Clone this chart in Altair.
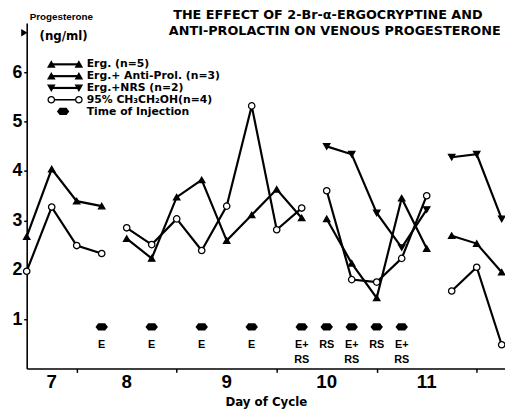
import altair as alt
import pandas as pd

# ---------------- data ----------------
SERIES = ["Erg. (n=5)", "Erg.+ Anti-Prol. (n=3)", "Erg.+NRS (n=2)", "95% CH\u2083CH\u2082OH(n=4)"]
SHAPES = ["triangle-up", "triangle-up", "triangle-down", "circle"]
FILLS = ["black", "black", "black", "white"]
WIDTHS = [2.2, 2.2, 2.2, 1.6]

# sampling times (fractional day of cycle)
T_A = [7.5, 7.75, 8.0, 8.25]
T_B = [8.5, 8.75, 9.0, 9.25, 9.5, 9.75, 10.0, 10.25]
T_C = [10.5, 10.75, 11.0, 11.25, 11.5]
T_D = [11.75, 12.0, 12.25]

ERG_A = [2.67, 4.04, 3.39, 3.29]
ERG_B = [2.63, 2.23, 3.47, 3.82, 2.59, 3.11, 3.63, 3.05]
ANTI_C = [3.03, 2.13, 1.43, 3.45, 2.43]
ANTI_D = [2.69, 2.53, 1.95]
NRS_C = [4.50, 4.34, 3.15, 2.45, 3.22]
NRS_D = [4.28, 4.34, 3.03]
ETH_A = [1.97, 3.27, 2.49, 2.33]
ETH_B = [2.85, 2.51, 3.03, 2.39, 3.29, 5.32, 2.81, 3.25]
ETH_C = [3.60, 1.80, 1.75, 2.23, 3.50]
ETH_D = [1.57, 2.05, 0.48]

INJ_T = [8.25, 8.75, 9.25, 9.75, 10.25, 10.5, 10.75, 11.0, 11.25]
INJ_LABEL = ["E", "E", "E", "E", "E+\nRS", "RS", "E+\nRS", "RS", "E+\nRS"]
INJ_LEVEL = 0.84

DAY_POS = [7.75, 8.5, 9.5, 10.5, 11.5]
DAY_LABEL = ["7", "8", "9", "10", "11"]
DAY_TICKS = [8, 9, 10, 11, 12]
Y_TICKS = [1, 2, 3, 4, 5, 6]

TITLE_1 = "THE EFFECT OF 2-Br-\u03b1-ERGOCRYPTINE AND"
TITLE_2 = "ANTI-PROLACTIN ON VENOUS PROGESTERONE"

segments = [
    (0, "a", T_A, ERG_A), (0, "b", T_B, ERG_B),
    (1, "c", T_C, ANTI_C), (1, "d", T_D, ANTI_D),
    (2, "c", T_C, NRS_C), (2, "d", T_D, NRS_D),
    (3, "a", T_A, ETH_A), (3, "b", T_B, ETH_B), (3, "c", T_C, ETH_C), (3, "d", T_D, ETH_D),
]
rows = []
for si, seg, ts, vs in segments:
    for t, v in zip(ts, vs):
        rows.append({"series": SERIES[si], "seg": f"{si}{seg}", "t": t, "v": v})
df = pd.DataFrame(rows)

# ---------------- layout ----------------
W, H = 486, 351
FONT = "Liberation Sans"
WIDE = "DejaVu Sans"
INJ_PATH = "M-1,0 L-0.55,-0.6 L0.55,-0.6 L1,0 L0.55,0.55 L-0.55,0.55 Z"

xs = alt.Scale(domain=[7.5, 12.283], nice=False, zero=False)
ys = alt.Scale(domain=[0, 7], nice=False, zero=True)
shape_s = alt.Scale(domain=SERIES, range=SHAPES)
fill_s = alt.Scale(domain=SERIES, range=FILLS)
width_s = alt.Scale(domain=SERIES, range=WIDTHS)

x_axis = alt.Axis(values=DAY_TICKS, labels=False, tickSize=4, tickWidth=1.5, tickColor="black",
                  domainColor="black", domainWidth=1.6, grid=False, title="Day of Cycle",
                  titleFont=WIDE, titleFontSize=12, titleFontWeight="bold", titleColor="black",
                  titleBaseline="middle", titleY=34)
y_axis = alt.Axis(values=Y_TICKS, tickSize=3, tickWidth=1.5, tickColor="black",
                  domainColor="black", domainWidth=1.6, grid=False, title=None,
                  labelFont=FONT, labelFontSize=18, labelFontWeight="bold", labelColor="black",
                  labelPadding=2)

X_ENC = alt.X("t:Q", scale=xs, axis=x_axis, title="Day of Cycle")
Y_ENC = alt.Y("v:Q", scale=ys, axis=y_axis, title=None)

lines = alt.Chart(df).mark_line(color="black").encode(
    x=X_ENC, y=Y_ENC,
    detail="seg:N",
    strokeWidth=alt.StrokeWidth("series:N", scale=width_s, legend=None),
)
points = alt.Chart(df).mark_point(filled=True, stroke="black", strokeWidth=1.3, opacity=1, size=42).encode(
    x=X_ENC, y=Y_ENC,
    shape=alt.Shape("series:N", scale=shape_s, legend=None),
    fill=alt.Fill("series:N", scale=fill_s, legend=None),
)

inj_df = pd.DataFrame({"t": INJ_T, "lab": INJ_LABEL, "v": [INJ_LEVEL] * len(INJ_T)})
inj_marks = alt.Chart(inj_df).mark_point(shape=INJ_PATH, filled=True, color="black", opacity=1, size=160).encode(
    x=X_ENC, y=Y_ENC,
)
inj_text = alt.Chart(inj_df).mark_text(font=FONT, fontSize=11, fontWeight="bold", baseline="top",
                                       lineBreak="\n", lineHeight=15, color="black").encode(
    x=X_ENC,
    y=alt.value(321),
    text="lab:N",
)

day_df = pd.DataFrame({"t": DAY_POS, "lab": DAY_LABEL})
day_text = alt.Chart(day_df).mark_text(font=FONT, fontSize=19, fontWeight="bold", baseline="middle",
                                       color="black").encode(
    x=X_ENC,
    y=alt.value(H + 14),
    text="lab:N",
)

one = pd.DataFrame({"k": [0]})


def label(txt, x, y, size, align="left", font=WIDE):
    return alt.Chart(one).mark_text(text=txt, font=font, fontSize=size, fontWeight="bold",
                                    align=align, baseline="middle", color="black").encode(
        x=alt.value(x), y=alt.value(y))


layers = [lines, points, inj_marks, inj_text, day_text]

# titles
layers.append(label(TITLE_1, 306, -8, 13, "center"))
layers.append(label(TITLE_2, 313, 8, 13, "center"))
layers.append(label("Progesterone", 3, -6, 10, font=FONT))
layers.append(label("(ng/ml)", 13, 13, 12))

# axis arrow head
layers.append(alt.Chart(one).mark_point(shape="triangle-up", filled=True, color="black", opacity=1,
                                        size=55, angle=330).encode(x=alt.value(-4), y=alt.value(9)))

# legend
LEG_Y = [42, 54, 66, 78, 90]
for i, name in enumerate(SERIES):
    yy = LEG_Y[i]
    ldf = pd.DataFrame({"series": [name]})
    layers.append(alt.Chart(ldf).mark_rule(color="black", strokeWidth=WIDTHS[i]).encode(
        x=alt.value(25), x2=alt.value(53), y=alt.value(yy)))
    for xx in (25, 53):
        layers.append(alt.Chart(ldf).mark_point(filled=True, stroke="black", strokeWidth=1.3,
                                                opacity=1, size=42).encode(
            x=alt.value(xx), y=alt.value(yy),
            shape=alt.Shape("series:N", scale=shape_s, legend=None),
            fill=alt.Fill("series:N", scale=fill_s, legend=None)))
    layers.append(label(name, 61, yy, 11))
layers.append(alt.Chart(one).mark_point(shape=INJ_PATH, filled=True, color="black", opacity=1,
                                        size=160).encode(x=alt.value(37), y=alt.value(LEG_Y[4])))
layers.append(label("Time of Injection", 61, LEG_Y[4], 11))

chart = alt.layer(*layers).properties(
    width=W, height=H,
    autosize=alt.AutoSizeParams(type="none"),
    padding={"left": 19, "top": 12, "right": 0, "bottom": 40},
    background="white",
).configure_view(stroke=None)

chart.save("out.html", embed_options={"renderer": "svg", "actions": False})
